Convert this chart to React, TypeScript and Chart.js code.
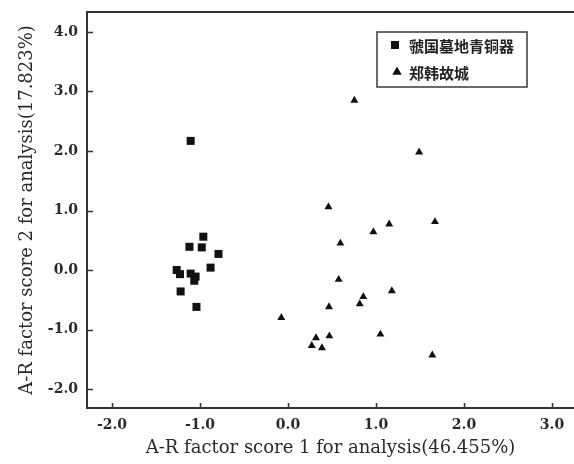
import React, { useEffect, useRef } from "react";
import { Chart, registerables } from "chart.js";

Chart.register(...registerables);

const seriesNames = ["虢国墓地青铜器", "郑韩故城"];
const guoX = [-1.106, -0.962, -1.12, -0.98, -0.79, -0.88, -1.265, -1.227, -1.106, -1.05, -1.065, -1.22, -1.04];
const guoY = [2.17, 0.56, 0.39, 0.38, 0.27, 0.04, 0.0, -0.07, -0.06, -0.11, -0.18, -0.36, -0.62];
const zhengX = [0.754, 1.49, 0.46, 1.15, 1.67, 0.97, 0.595, 0.576, 1.18, 0.856, 0.815, 0.466, -0.076, 0.47, 0.318, 1.05, 0.27, 0.386, 1.64];
const zhengY = [2.85, 1.98, 1.06, 0.77, 0.81, 0.64, 0.45, -0.16, -0.35, -0.45, -0.57, -0.62, -0.8, -1.11, -1.14, -1.08, -1.27, -1.31, -1.43];
const xTicks = [-2, -1, 0, 1, 2, 3];
const yTicks = [-2, -1, 0, 1, 2, 3, 4];
const xTitle = "A-R factor score 1 for analysis(46.455%)";
const yTitle = "A-R factor score 2 for analysis(17.823%)";

const INK = "#111111";
const AXIS = "#3a3030";
const TEXT = "#2a2a2a";

const innerTicks = {
  id: "innerTicks",
  afterDraw(chart: any) {
    const { ctx, chartArea } = chart;
    const xs = chart.scales.x;
    const ys = chart.scales.y;
    ctx.save();
    ctx.strokeStyle = AXIS;
    ctx.lineWidth = 1.5;
    ctx.beginPath();
    xs.ticks.forEach((t: any) => {
      const px = Math.round(xs.getPixelForValue(t.value)) + 0.5;
      ctx.moveTo(px, chartArea.bottom);
      ctx.lineTo(px, chartArea.bottom - 5);
    });
    ys.ticks.forEach((t: any) => {
      const py = Math.round(ys.getPixelForValue(t.value)) + 0.5;
      ctx.moveTo(chartArea.left, py);
      ctx.lineTo(chartArea.left + 6, py);
    });
    ctx.stroke();
    ctx.restore();
  },
};

const boxLegend = {
  id: "boxLegend",
  afterDraw(chart: any, _args: any, opts: any) {
    const { ctx } = chart;
    const { left, top, right, bottom, rows, markerX, textX } = opts;
    ctx.save();
    ctx.fillStyle = "#ffffff";
    ctx.fillRect(left, top, right - left, bottom - top);
    ctx.strokeStyle = "#3a3a3a";
    ctx.lineWidth = 1.5;
    ctx.strokeRect(left, top, right - left, bottom - top);
    chart.data.datasets.forEach((ds: any, i: number) => {
      const y = rows[i];
      const mx = markerX[i];
      ctx.fillStyle = INK;
      if (ds.pointStyle === "rect") {
        ctx.fillRect(mx - 4, y - 4, 8, 8);
      } else {
        const r = 5.5;
        ctx.beginPath();
        ctx.moveTo(mx, y - r);
        ctx.lineTo(mx + r * 0.866, y + r / 2);
        ctx.lineTo(mx - r * 0.866, y + r / 2);
        ctx.closePath();
        ctx.fill();
      }
      ctx.fillStyle = "#222222";
      ctx.font = "bold 15px 'Noto Sans CJK SC'";
      ctx.textBaseline = "middle";
      ctx.textAlign = "left";
      ctx.fillText(ds.label, textX, y + 1);
    });
    ctx.restore();
  },
};

const zeroPad = (s: any) => {
  s.paddingLeft = 0;
  s.paddingRight = 0;
  s.paddingTop = 0;
  s.paddingBottom = 0;
};

export default function App() {
  const ref = useRef<HTMLCanvasElement>(null);
  useEffect(() => {
    if (!ref.current) return;
    const tickFont = { family: "'DejaVu Serif'", size: 14, weight: "bold" };
    const chart = new Chart(ref.current, {
      type: "scatter",
      data: {
        datasets: [
          {
            label: seriesNames[0],
            data: guoX.map((x, i) => ({ x, y: guoY[i] })),
            pointStyle: "rect",
            pointRadius: 5.66,
            backgroundColor: INK,
            borderColor: INK,
            borderWidth: 0,
          },
          {
            label: seriesNames[1],
            data: zhengX.map((x, i) => ({ x, y: zhengY[i] })),
            pointStyle: "triangle",
            pointRadius: 4.6,
            backgroundColor: INK,
            borderColor: INK,
            borderWidth: 0,
          },
        ] as any,
      },
      options: {
        animation: false,
        responsive: false,
        maintainAspectRatio: false,
        layout: { autoPadding: false, padding: { left: 0, right: 0, top: 0, bottom: 0 } },
        plugins: {
          legend: { display: false },
          tooltip: { enabled: false },
          boxLegend: {
            left: 377,
            top: 32,
            right: 527,
            bottom: 87,
            rows: [45, 72],
            markerX: [395, 397],
            textX: 409,
          },
        } as any,
        scales: {
          x: {
            type: "linear",
            position: "bottom",
            min: -2.284,
            max: 3.25,
            afterBuildTicks: (s: any) => {
              s.ticks = xTicks.map((v) => ({ value: v }));
            },
            afterFit: (s: any) => {
              s.height = 56;
              zeroPad(s);
            },
            grid: { display: false, drawTicks: false },
            border: { display: true, color: AXIS, width: 2 },
            ticks: {
              color: TEXT,
              font: tickFont,
              padding: 9,
              maxRotation: 0,
              callback: (v: any) => Number(v).toFixed(1),
            },
            title: {
              display: true,
              text: xTitle,
              color: TEXT,
              font: { family: "'DejaVu Serif'", size: 18 },
              padding: { top: 0, bottom: 5 },
            },
          },
          xTop: {
            type: "linear",
            position: "top",
            min: -2.284,
            max: 3.25,
            afterFit: (s: any) => {
              s.height = 12;
              zeroPad(s);
            },
            grid: { display: false, drawTicks: false },
            border: { display: true, color: AXIS, width: 2 },
            ticks: { display: false },
          },
          y: {
            type: "linear",
            position: "left",
            min: -2.319,
            max: 4.336,
            afterBuildTicks: (s: any) => {
              s.ticks = yTicks.map((v) => ({ value: v }));
            },
            afterFit: (s: any) => {
              s.width = 87;
              zeroPad(s);
            },
            grid: { display: false, drawTicks: false },
            border: { display: true, color: AXIS, width: 2 },
            ticks: {
              color: TEXT,
              font: tickFont,
              padding: 9,
              callback: (v: any) => Number(v).toFixed(1),
            },
            title: {
              display: true,
              text: yTitle,
              color: TEXT,
              font: { family: "'DejaVu Serif'", size: 18 },
              padding: { top: 17, bottom: 0 },
            },
          },
        } as any,
      },
      plugins: [innerTicks, boxLegend],
    });
    return () => chart.destroy();
  }, []);
  return (
    <div style={{ position: "fixed", left: 0, top: 0, width: 574, height: 464, background: "#ffffff" }}>
      <canvas ref={ref} width={574} height={464} style={{ display: "block", width: 574, height: 464 }} />
    </div>
  );
}
